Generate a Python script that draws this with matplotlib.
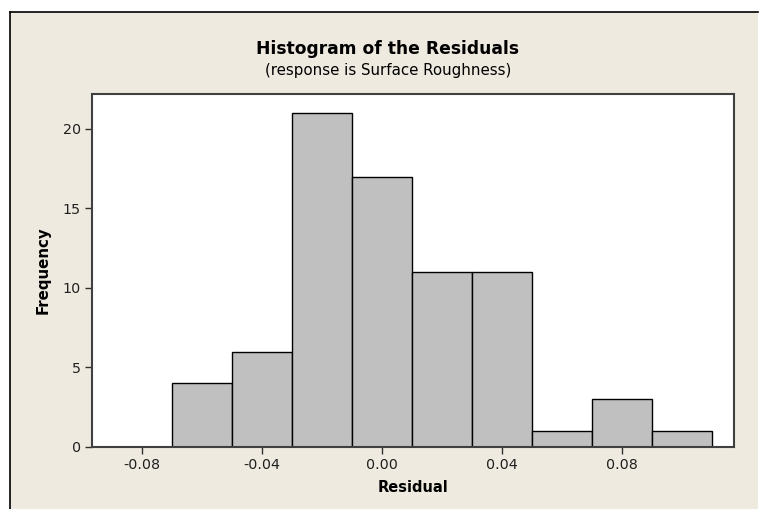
import matplotlib.pyplot as plt
from matplotlib.patches import Rectangle
from matplotlib.lines import Line2D

# residual histogram bins (width 0.02) and counts
bin_edges = [-0.09, -0.07, -0.05, -0.03, -0.01, 0.01, 0.03, 0.05, 0.07, 0.09, 0.11]
counts = [0, 4, 6, 21, 17, 11, 11, 1, 3, 1]
x_ticks = [-0.08, -0.04, 0.00, 0.04, 0.08]
y_ticks = [0, 5, 10, 15, 20]

plt.rcParams['font.family'] = 'DejaVu Sans'
plt.rcParams['axes.unicode_minus'] = False

W, H = 759, 509
fig = plt.figure(figsize=(W / 100, H / 100), dpi=100, facecolor='white')

# beige graph region with black border on top and left
fig.patches.append(Rectangle((10 / W, 0), 748 / W, (H - 12) / H,
                             transform=fig.transFigure, facecolor='#eeeae0',
                             edgecolor='none', zorder=-10))
fig.lines.append(Line2D([10 / W, 758 / W], [(H - 12) / H] * 2,
                        transform=fig.transFigure, color='black', lw=1.2,
                        zorder=-5))
fig.lines.append(Line2D([10 / W, 10 / W], [0, (H - 12) / H],
                        transform=fig.transFigure, color='black', lw=1.2,
                        zorder=-5))

ax = fig.add_axes([92 / W, (H - 447) / H, (734 - 92) / W, (447 - 94) / H])
ax.set_facecolor('white')

widths = [b - a for a, b in zip(bin_edges[:-1], bin_edges[1:])]
ax.bar(bin_edges[:-1], counts, width=widths, align='edge',
       color='#c0c0c0', edgecolor='black', linewidth=1.0)

ax.set_xlim(-0.0967, 0.1173)
ax.set_ylim(0, 22.2)
ax.set_xticks(x_ticks)
ax.set_xticklabels(['%.2f' % t for t in x_ticks])
ax.set_yticks(y_ticks)
ax.tick_params(direction='out', length=5, width=1.0, color='#303030',
               labelsize=10.3, labelcolor='#202020', pad=3)
for s in ax.spines.values():
    s.set_color('#404040')
    s.set_linewidth(1.5)

ax.set_xlabel('Residual', fontsize=10.5, fontweight='bold', labelpad=6)
ax.set_ylabel('Frequency', fontsize=10.8, fontweight='bold', labelpad=9)

fig.text(388 / W, 1 - 49 / H, 'Histogram of the Residuals', ha='center',
         va='center', fontsize=12.3, fontweight='bold')
fig.text(388 / W, 1 - 70 / H, '(response is Surface Roughness)', ha='center',
         va='center', fontsize=10.8)

fig.savefig('out.png', dpi=100, facecolor=fig.get_facecolor())
